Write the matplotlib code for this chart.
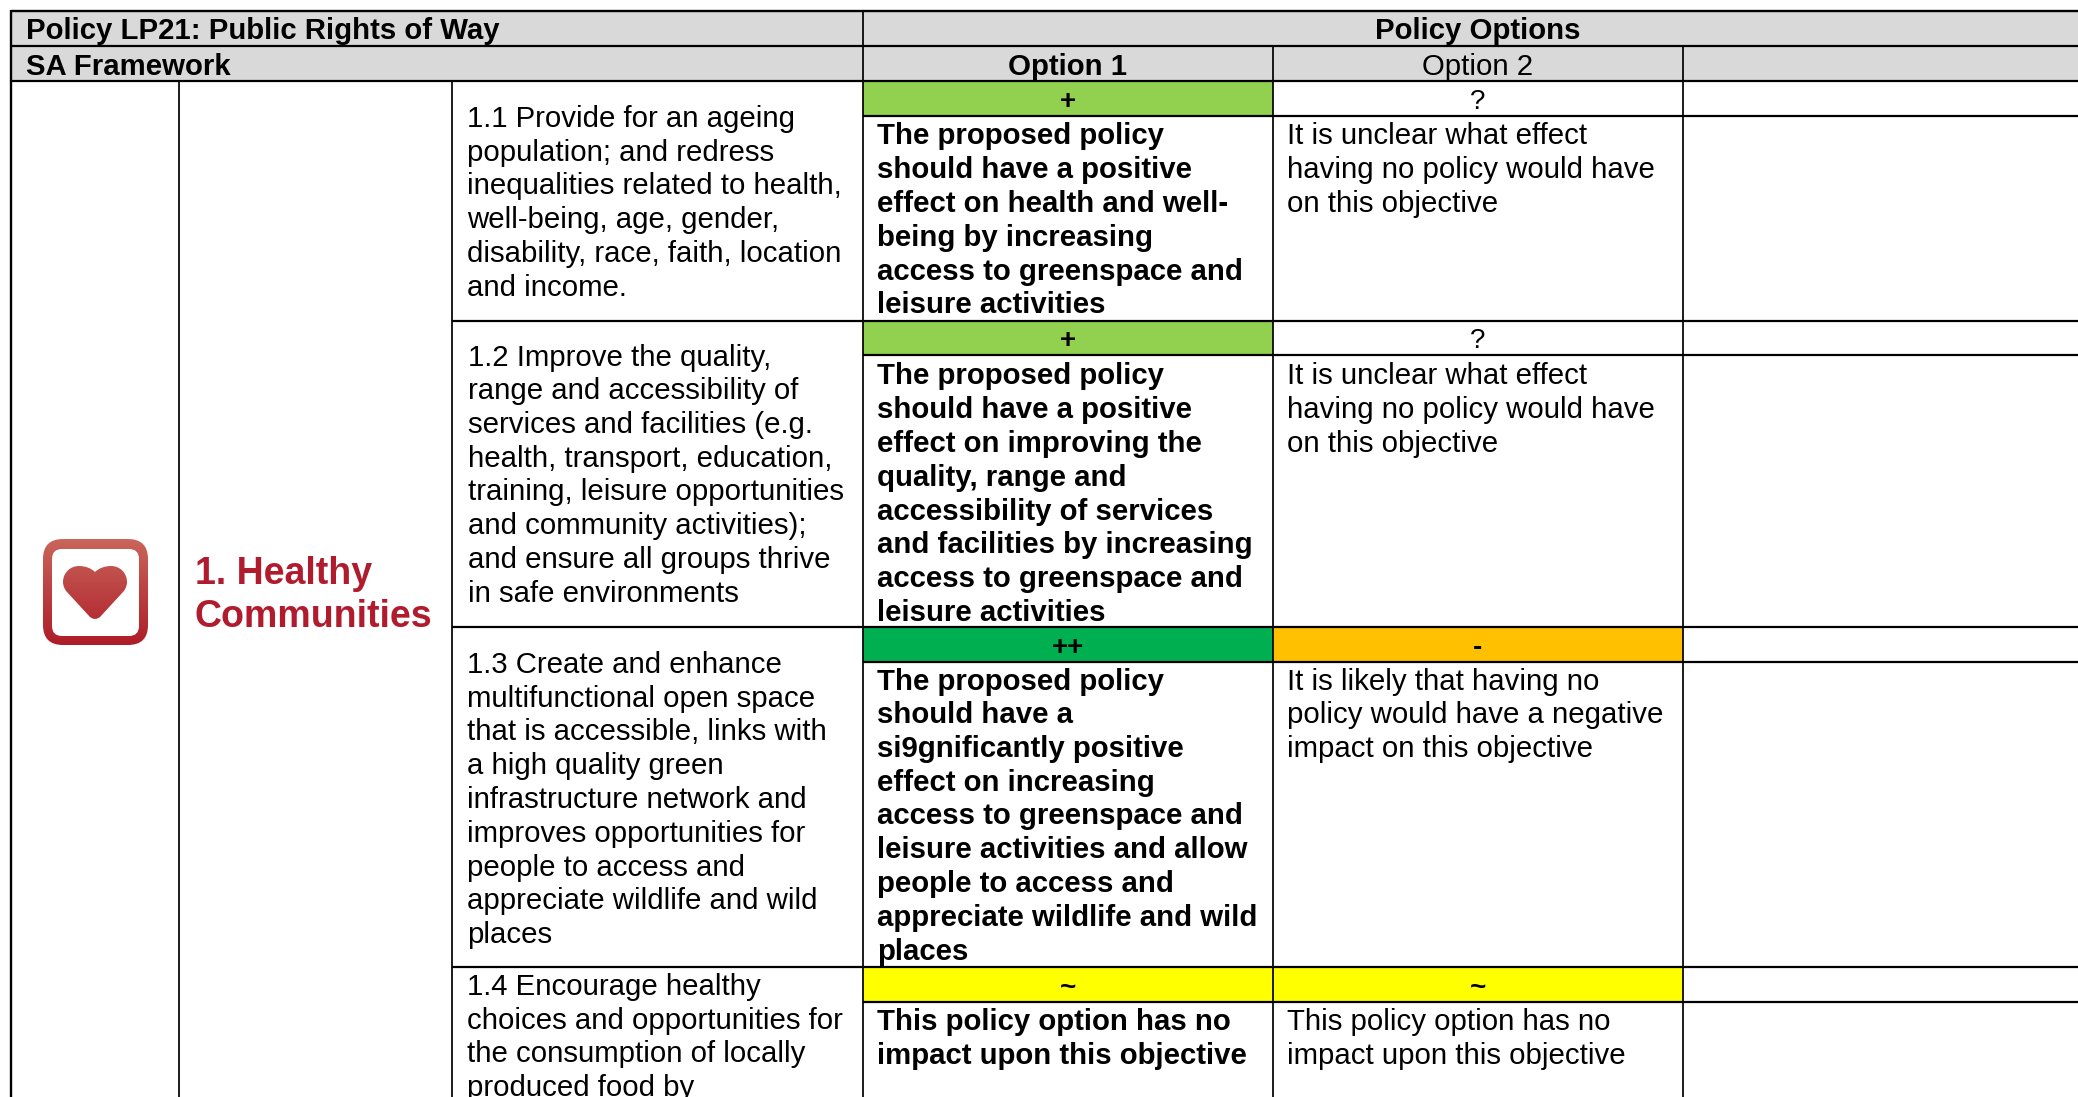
"""Sustainability appraisal table for policy LP21, drawn on a pixel-sized axes."""

import matplotlib
matplotlib.use("Agg")
import matplotlib.pyplot as plt
import numpy as np

from matplotlib.colors import LinearSegmentedColormap
from matplotlib.patches import FancyBboxPatch, PathPatch, Rectangle
from matplotlib.path import Path

plt.rcParams['font.family'] = ['Liberation Sans', 'DejaVu Sans']

title = "Policy LP21: Public Rights of Way"
framework = "SA Framework"
options_title = "Policy Options"
option_labels = ["Option 1", "Option 2"]
theme = ["1. Healthy", "Communities"]

scores_1 = ["+", "+", "++", "~"]
scores_2 = ["?", "?", "-", "~"]
colours_1 = ["#92D050", "#92D050", "#00B050", "#FFFF00"]
colours_2 = ["white", "white", "#FFC000", "#FFFF00"]

objectives = [
    ["1.1 Provide for an ageing", "population; and redress",
     "inequalities related to health,", "well-being, age, gender,",
     "disability, race, faith, location", "and income."],
    ["1.2 Improve the quality,", "range and accessibility of",
     "services and facilities (e.g.", "health, transport, education,",
     "training, leisure opportunities", "and community activities);",
     "and ensure all groups thrive", "in safe environments"],
    ["1.3 Create and enhance", "multifunctional open space",
     "that is accessible, links with", "a high quality green",
     "infrastructure network and", "improves opportunities for",
     "people to access and", "appreciate wildlife and wild", "places"],
    ["1.4 Encourage healthy", "choices and opportunities for",
     "the consumption of locally", "produced food by"],
]
effects_1 = [
    ["The proposed policy", "should have a positive",
     "effect on health and well-", "being by increasing",
     "access to greenspace and", "leisure activities"],
    ["The proposed policy", "should have a positive",
     "effect on improving the", "quality, range and",
     "accessibility of services", "and facilities by increasing",
     "access to greenspace and", "leisure activities"],
    ["The proposed policy", "should have a", "si9gnificantly positive",
     "effect on increasing", "access to greenspace and",
     "leisure activities and allow", "people to access and",
     "appreciate wildlife and wild", "places"],
    ["This policy option has no", "impact upon this objective"],
]
effects_2 = [
    ["It is unclear what effect", "having no policy would have",
     "on this objective"],
    ["It is unclear what effect", "having no policy would have",
     "on this objective"],
    ["It is likely that having no", "policy would have a negative",
     "impact on this objective"],
    ["This policy option has no", "impact upon this objective"],
]

W, H = 2078, 1097
col_x = [11, 179, 452, 863, 1273, 1683]
score_top = [80.5, 320.5, 627, 967]
score_bot = [116, 355, 662, 1002]
obj_x = [467, 468, 467, 467]
obj_base = [127, 365.5, 673, 995]
eff_base = [144.5, 384.5, 689.5, 1030.5]
pitch = 33.75
fs = 21.15
grey = "#D9D9D9"

fig = plt.figure(figsize=(W / 100, H / 100), dpi=100)
ax = fig.add_axes([0, 0, 1, 1])
ax.axis("off")


def hline(y, x0, x1=W, lw=1.6):
    ax.plot([x0, x1], [y, y], color="black", lw=lw, solid_capstyle="butt", zorder=3)


def vline(x, y0, y1=H, lw=1.25):
    ax.plot([x, x], [y0, y1], color="black", lw=lw, solid_capstyle="butt", zorder=3)


def block(lines, x, y, **kw):
    for i, line in enumerate(lines):
        ax.text(x, y + i * pitch, line, fontsize=fs, va="baseline", color="black",
                clip_on=True, **kw)


# Header bands and score fills
ax.add_patch(Rectangle((11, 11), W - 11, 69, fc=grey, ec="none", zorder=1))
for top, bot, c1, c2 in zip(score_top, score_bot, colours_1, colours_2):
    ax.add_patch(Rectangle((863, top), 410, bot - top, fc=c1, ec="none", zorder=1))
    ax.add_patch(Rectangle((1273, top), 410, bot - top, fc=c2, ec="none", zorder=1))

# Grid
hline(11, 11, lw=1.7)
hline(46, 11)
hline(80.5, 11)
for top, bot in zip(score_top[1:], score_bot[1:]):
    hline(top, 452)
    hline(bot, 863)
hline(score_bot[0], 863)
vline(col_x[0], 10, lw=1.7)
vline(col_x[1], 80)
vline(col_x[2], 80)
vline(col_x[3], 11)
vline(col_x[4], 46)
vline(col_x[5], 46)

# Header text
ax.text(26, 39, title, fontsize=fs, fontweight="bold", va="baseline")
ax.text(26, 75, framework, fontsize=fs, fontweight="bold", va="baseline")
ax.text(1478, 39, options_title, fontsize=fs, fontweight="bold", va="baseline", ha="center")
ax.text(1068, 75, option_labels[0], fontsize=fs, fontweight="bold", va="baseline", ha="center")
ax.text(1478, 75, option_labels[1], fontsize=fs, va="baseline", ha="center")

# Theme label
ax.text(195, 584, theme[0], fontsize=27, fontweight="bold", color="#B01C2E", va="baseline")
ax.text(195, 627, theme[1], fontsize=27, fontweight="bold", color="#B01C2E", va="baseline")

# Table body
for i in range(4):
    block(objectives[i], obj_x[i], obj_base[i])
    block(effects_1[i], 877, eff_base[i], fontweight="bold")
    block(effects_2[i], 1287, eff_base[i])
    ax.text(1068, score_bot[i] - 7, scores_1[i], fontsize=20, fontweight="bold",
            ha="center", va="baseline")
    weight = "normal" if scores_2[i] == "?" else "bold"
    ax.text(1478, score_bot[i] - 7, scores_2[i], fontsize=20, fontweight=weight,
            ha="center", va="baseline")

# Heart icon: gradient clipped to a rounded frame and a heart
cmap = LinearSegmentedColormap.from_list("heart", ["#C9665B", "#AE1C28"])
grad = np.linspace(0, 1, 256).reshape(-1, 1)

frame_outer = FancyBboxPatch((43, 539), 105, 106, boxstyle="round,pad=0,rounding_size=20",
                             fc="none", ec="none")
ax.add_patch(frame_outer)
im = ax.imshow(grad, cmap=cmap, extent=(43, 148, 645, 539), aspect="auto", zorder=2)
im.set_clip_path(frame_outer)
ax.add_patch(FancyBboxPatch((52, 549), 87, 87, boxstyle="round,pad=0,rounding_size=10",
                            fc="white", ec="none", zorder=2.1))

verts = [(95, 572), (91, 568), (85, 566), (79, 566),
         (70, 566), (63, 573), (63, 582),
         (63, 586), (65, 590), (67, 592),
         (90, 617), (95, 621), (100, 617),
         (123, 592), (125, 590), (127, 586), (127, 582),
         (127, 573), (120, 566), (111, 566),
         (105, 566), (99, 568), (95, 572), (95, 572)]
codes = [Path.MOVETO] + [Path.CURVE4] * 9 + [Path.LINETO, Path.CURVE3, Path.CURVE3] + \
        [Path.LINETO] + [Path.CURVE4] * 9 + [Path.CLOSEPOLY]
heart = PathPatch(Path(verts, codes), fc="none", ec="none", zorder=2.3)
ax.add_patch(heart)
im2 = ax.imshow(grad, cmap=cmap, extent=(43, 148, 645, 539), aspect="auto", zorder=2.2)
im2.set_clip_path(heart)

ax.set_xlim(0, W)
ax.set_ylim(H, 0)
fig.savefig("out.png", dpi=100, facecolor="white")
